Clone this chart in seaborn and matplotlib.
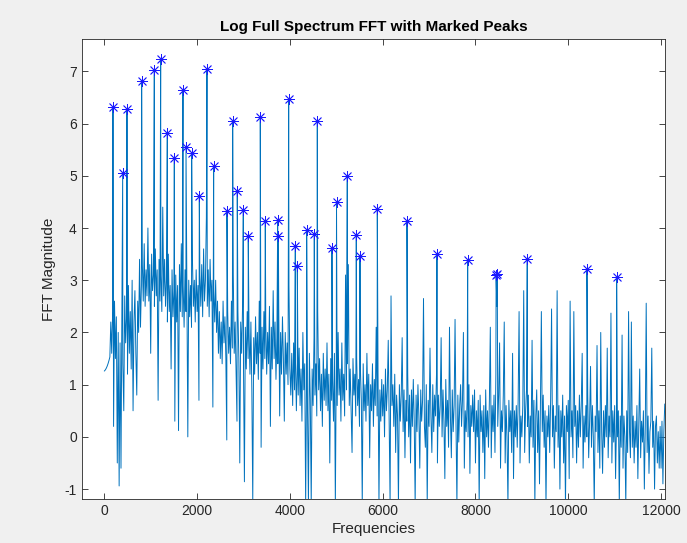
import numpy as np
import pandas as pd
import matplotlib
matplotlib.use("Agg")
import matplotlib.pyplot as plt
import seaborn as sns

# ---------------- data ----------------
# background spectrum, sampled every 20 Hz starting at 0 Hz (one row = 600 Hz)
noise_step = 20
noise_rows = [
    [1.26, 1.28, 1.31, 1.35, 1.40, 1.46, 1.53, 2.2, 1.6, 2.4, 0.2, 2.6, 1.5, 2.3, -0.5, 2.0, -0.94, 1.8, -0.6, 2.5, 1.4, 0.5, 2.7, 1.8, 2.3, 1.2, 2.9, 1.6, 2.4, 1.3],
    [3.0, 0.5, 2.2, 2.8, 1.6, 0.8, 2.6, 2.0, 3.4, 2.1, 2.9, 3.3, 2.6, 3.7, 2.5, 3.2, 2.7, 4.0, 2.6, 3.3, 1.6, 3.5, 2.8, 3.1, 2.5, 3.6, 2.7, 3.2, 0.7, 3.4],
    [2.6, 3.1, 2.4, 4.4, 2.7, 3.4, 2.5, 3.0, 2.2, 3.5, 2.4, 2.9, 1.3, 3.2, 2.3, 2.8, 0.3, 3.1, 2.2, 2.9, 0.12, 3.3, 2.4, 3.7, 2.3, 2.9, 2.1, 3.2, 2.4, 2.8],
    [0.0, 3.0, 2.3, 2.9, 2.1, 3.4, 2.5, 3.0, 2.2, 3.2, 2.4, 2.9, 0.7, 3.1, 2.5, 3.3, 2.3, 3.6, 2.6, 3.0, 4.2, 2.5, 3.2, 2.3, 3.4, 2.6, 3.0, 0.57, 2.8, 2.2],
    [3.0, 2.0, 2.6, 1.6, 2.4, 1.5, 2.2, 1.4, 2.6, 1.8, 2.3, 1.5, -0.06, 2.4, 1.6, 2.1, 1.4, 2.6, 1.7, 3.1, 1.6, 2.2, 1.3, 0.3, 2.4, 1.5, -0.5, 2.2, 1.6, 2.5],
    [1.4, -0.86, 2.1, 1.3, 2.4, 1.5, 2.0, 1.2, 2.2, 0.9, -1.25, 1.9, 1.2, 2.3, 1.4, 2.0, 1.1, 2.6, 1.6, -0.2, 2.1, 1.3, 2.4, 1.5, 2.2, 1.2, 2.0, 1.4, 2.5, 0.2],
    [2.1, 1.3, 2.8, 1.5, 2.2, 1.1, 1.9, 1.4, 2.5, 0.4, 2.0, 1.2, 2.3, 1.5, 0.3, 2.0, 1.2, 1.8, 1.0, 2.9, 1.3, 0.8, 1.6, 0.6, 1.8, 0.9, 1.5, 0.5, 1.4, 0.8],
    [1.7, 0.6, 1.3, 0.3, 2.0, 0.9, 1.4, -1.3, 1.2, 0.5, -1.3, 1.6, 0.7, -1.3, 1.3, 0.6, 1.9, 0.8, 1.4, 0.4, 2.4, 0.9, 1.5, 0.5, 1.2, 0.2, 1.6, 0.7, 1.3, 0.6],
    [1.8, 0.5, 1.2, -0.5, 1.5, 0.7, 1.1, 0.3, 1.6, -1.3, 1.4, 0.6, 2.0, 0.8, 1.3, 0.3, 1.8, 0.7, 1.2, 0.4, 3.1, 0.9, 1.4, 3.3, 0.6, 1.3, 0.5, -0.3, 1.5, 0.8],
    [1.2, 0.4, 1.5, 0.6, 1.1, 0.2, 1.3, 0.7, -1.3, 1.4, 0.5, 1.0, 0.3, 1.6, 0.6, 1.2, -0.4, 1.0, 0.5, 1.4, 0.2, 1.1, 0.6, 2.1, 0.4, 1.2, -1.3, 0.9, 0.3, 1.1],
    [0.4, 1.0, 0.0, 1.3, 0.5, 0.9, 1.85, 0.3, -1.3, 2.7, 0.6, 1.0, 0.2, 1.2, -0.3, 0.8, 0.4, -1.3, 1.0, 0.3, 0.8, 1.9, 0.1, 0.9, -0.4, 0.7, 0.3, 1.2, 0.0, 0.8],
    [-0.5, 0.9, 0.2, 1.1, 0.3, -1.3, 0.8, 0.1, 1.0, 0.4, -0.6, 0.9, 0.3, 0.7, 2.65, 0.2, -0.2, 1.0, -1.3, 0.7, 0.2, 1.7, 0.4, -0.3, 1.0, 0.1, 0.8, 0.4, 1.2, -0.5],
    [0.8, 0.2, 0.6, 1.9, 0.0, 0.9, 0.3, -0.8, 1.1, 0.2, 0.7, -0.2, 2.1, 0.4, -0.4, 0.9, 0.1, 0.6, 2.25, 0.3, -1.3, 0.8, -0.1, 0.6, 1.0, 0.2, 0.7, 2.0, -0.6, 0.5],
    [0.1, 0.7, 0.0, 1.0, -0.7, 0.6, 0.2, 0.8, 0.1, 0.9, -0.5, 0.5, 0.0, 0.7, -1.3, 0.8, 0.1, 0.5, -0.3, 0.6, -0.8, 0.9, 0.0, 0.5, -0.2, 0.7, 2.1, -0.4, 0.6, 0.1],
    [0.8, -0.3, 1.2, 2.5, 0.2, 0.8, 1.8, -0.6, 0.5, 0.1, 0.8, 2.2, -0.5, 0.6, 0.0, -1.3, 0.7, 0.1, 0.5, -0.3, 1.6, -0.8, 0.5, 0.0, 0.6, -0.2, 0.7, 2.4, -0.5, 0.4],
    [0.0, 0.6, 2.8, -0.3, 0.5, 0.9, 0.2, 0.8, -0.5, 0.4, 0.0, 1.85, -0.2, 0.7, -1.3, 0.4, 0.9, -0.3, 0.5, -0.9, 0.6, 2.4, 0.1, 0.8, -0.2, 0.5, -1.3, 0.4, 0.0, 0.6],
    [-0.3, 0.7, 2.45, 0.0, 0.6, -0.6, 0.4, 0.1, 2.8, -0.2, 0.6, -1.0, 0.5, 0.0, 0.8, -0.5, 0.4, -1.3, 0.6, 0.1, 0.7, -0.8, 2.6, 0.0, 0.5, -0.4, 2.4, 0.2, 0.6, -0.5],
    [0.5, -0.2, 0.8, 0.0, 0.6, 1.6, -0.6, 0.4, -0.1, 0.6, 0.0, 0.8, -0.4, 0.3, 1.35, -0.2, 0.6, 0.0, -1.3, 0.4, 0.1, 1.75, -0.3, 0.5, -0.6, 2.0, 0.1, -0.7, 0.5, -0.2],
    [0.6, 0.0, 1.7, -0.4, 0.4, 0.0, 2.37, -0.5, 0.5, -0.1, 0.6, -0.8, 0.3, 0.0, 0.5, -1.3, 0.4, -0.2, 1.95, -0.6, 0.4, 0.0, -1.3, 0.5, -0.3, 2.4, 0.1, -0.4, 2.2, -0.2],
    [0.4, -0.5, 0.3, -0.2, 0.6, -0.8, 0.2, 1.3, -0.4, 0.3, -0.1, 0.5, -1.0, 0.2, 2.56, -0.3, 0.4, -0.7, 0.1, 0.3, 1.7, -0.2, 0.3, -1.0, 0.2, 0.4, -0.5, 0.1, -0.6, 0.2],
    [-0.6, 0.3, -0.9, 0.1, 0.63],
]

# marked peaks
peak_freqs = [187, 396, 489, 805, 1078, 1215, 1358, 1509, 1696, 1761, 1883, 2048,
              2213, 2357, 2644, 2767, 2866, 2996, 3103, 3362, 3470, 3737, 3752,
              3974, 4117, 4160, 4362, 4526, 4591, 4907, 5005, 5237, 5431, 5511,
              5884, 6524, 7170, 7832, 8445, 8470, 9116, 10403, 11043]
peak_mags = [6.32, 5.05, 6.28, 6.82, 7.02, 7.24, 5.82, 5.34, 6.64, 5.56, 5.43, 4.61,
             7.04, 5.18, 4.33, 6.04, 4.71, 4.35, 3.85, 6.13, 4.14, 4.15, 3.85,
             6.47, 3.66, 3.28, 3.96, 3.89, 6.05, 3.61, 4.50, 4.99, 3.87, 3.46,
             4.36, 4.13, 3.51, 3.38, 3.10, 3.12, 3.41, 3.21, 3.06]

x_ticks = [0, 2000, 4000, 6000, 8000, 10000, 12000]
y_ticks = [-1, 0, 1, 2, 3, 4, 5, 6, 7]

# ---------------- build frames ----------------
noise_vals = [v for row in noise_rows for v in row]
noise_freqs = [i * noise_step for i in range(len(noise_vals))]
spec = pd.concat([
    pd.DataFrame({"freq": noise_freqs, "mag": noise_vals}),
    pd.DataFrame({"freq": peak_freqs, "mag": peak_mags}),
]).sort_values("freq", kind="mergesort").reset_index(drop=True)
peaks = pd.DataFrame({"freq": peak_freqs, "mag": peak_mags})

# ---------------- style ----------------
sns.set_style("ticks")
plt.rcParams["font.family"] = ["Liberation Sans", "DejaVu Sans"]
plt.rcParams["axes.unicode_minus"] = False
plt.rcParams["xtick.direction"] = "in"
plt.rcParams["ytick.direction"] = "in"

fig = plt.figure(figsize=(6.87, 5.43), dpi=100, facecolor="#f0f0f0")
ax = fig.add_axes([81.7 / 687, 1 - 499 / 543, (665 - 81.7) / 687, (499 - 39) / 543])
ax.set_facecolor("white")

sns.lineplot(data=spec, x="freq", y="mag", ax=ax, color="#0072BD",
             linewidth=0.7, estimator=None, sort=False)
sns.scatterplot(data=peaks, x="freq", y="mag", ax=ax, marker=(8, 2, 0),
                color="#1a1aff", s=55, linewidths=0.6, zorder=3)

ax.set_xlim(-487, 12085)
ax.set_ylim(-1.19, 7.62)
ax.set_xticks(x_ticks)
ax.set_yticks(y_ticks)
ax.tick_params(axis="both", which="both", direction="in", length=4, width=0.6,
               colors="#262626", labelsize=10, top=True, right=True,
               labeltop=False, labelright=False)
for sp in ax.spines.values():
    sp.set_visible(True)
    sp.set_color("#262626")
    sp.set_linewidth(0.6)

ax.set_xlabel("Frequencies", fontsize=11, color="#262626", labelpad=3)
ax.set_ylabel("FFT Magnitude", fontsize=11, color="#262626", labelpad=6)
ax.set_title("Log Full Spectrum FFT with Marked Peaks", fontsize=11,
             fontweight="bold", color="black", pad=6)

fig.savefig("out.png", dpi=100, facecolor=fig.get_facecolor())
